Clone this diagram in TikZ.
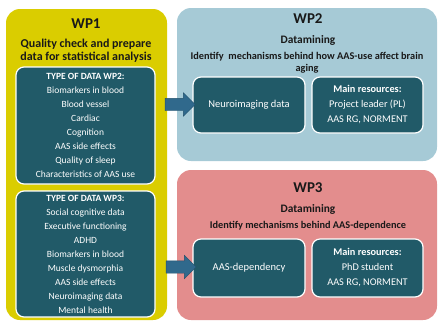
\documentclass[tikz,border=0pt]{standalone}
\usepackage{fontspec}
\setmainfont{Carlito}
\usepackage{tikz}
\usetikzlibrary{positioning, shapes.arrows}

\definecolor{wpyellow}{HTML}{DACD00}
\definecolor{wpblue}{HTML}{A6CAD6}
\definecolor{wpred}{HTML}{E38D8D}
\definecolor{tealbox}{HTML}{215A68}
\definecolor{arrowblue}{HTML}{30698C}
\definecolor{arrowedge}{HTML}{23506B}

\tikzset{
  wpbox/.style={rounded corners=14pt, inner sep=0pt},
  databox/.style={fill=tealbox, draw=white, line width=1.2pt, rounded corners=8pt,
    text=white, align=center, inner sep=0pt},
  wptitle/.style={font=\fontsize{15}{17}\selectfont\bfseries, text=black!90},
  wpsub/.style={font=\fontsize{11.4}{13}\selectfont\bfseries, text=black!90, align=center},
  blockarrow/.style={single arrow, fill=arrowblue, draw=arrowedge, line width=0.4pt,
    minimum height=30pt, minimum width=23pt, single arrow head extend=5.5pt, inner sep=6pt}
}

\begin{document}
\begin{tikzpicture}[x=1pt, y=-1pt]
  \useasboundingbox (0,0) rectangle (438,322);

  % WP1
  \node[wpbox, fill=wpyellow, minimum width=161pt, minimum height=311pt] (wp1) at (86.5,164.5) {};
  \node[wptitle] (wp1t) at (86,24) {WP1};
  \node[wpsub, font=\fontsize{12}{13.5}\selectfont\bfseries] (wp1s) at (86,50.5)
    {Quality check and prepare\\data for statistical analysis};

  % data for WP2
  \node[databox, minimum width=139pt, minimum height=117pt,
    font=\fontsize{9.5}{14}\selectfont] (data2) at (85.5,125.5)
    {\textbf{TYPE OF DATA WP2:}\\Biomarkers in blood\\Blood vessel\\Cardiac\\Cognition\\
     AAS side effects\\Quality of sleep\\Characteristics of AAS use};

  % data for WP3
  \node[databox, minimum width=139pt, minimum height=126pt,
    font=\fontsize{9.5}{14}\selectfont] (data3) at (85.5,254)
    {\textbf{TYPE OF DATA WP3:}\\Social cognitive data\\Executive functioning\\ADHD\\
     Biomarkers in blood\\Muscle dysmorphia\\AAS side effects\\Neuroimaging data\\Mental health};

  % WP2
  \node[wpbox, fill=wpblue, minimum width=260pt, minimum height=153pt] (wp2) at (307,84.5) {};
  \node[wptitle] (wp2t) at (308,19) {WP2};
  \node[wpsub] (wp2s) at (308,40) {Datamining};
  \node[wpsub, font=\fontsize{10.3}{12}\selectfont\bfseries] (wp2g) at (307,63)
    {Identify\ \ mechanisms behind how AAS-use affect brain\\aging};
  \node[databox, minimum width=112pt, minimum height=56pt,
    font=\fontsize{10.5}{15}\selectfont] (neuro) at (249,105) {Neuroimaging data};
  \node[databox, minimum width=111pt, minimum height=56pt,
    font=\fontsize{10.3}{15}\selectfont] (res2) at (367.5,105)
    {\textbf{Main resources:}\\Project leader (PL)\\AAS RG, NORMENT};

  % WP3
  \node[wpbox, fill=wpred, minimum width=260pt, minimum height=150pt] (wp3) at (307,245) {};
  \node[wptitle] (wp3t) at (308,188) {WP3};
  \node[wpsub] (wp3s) at (308,209) {Datamining};
  \node[wpsub, font=\fontsize{10.3}{12}\selectfont\bfseries] (wp3g) at (308,226)
    {Identify mechanisms behind AAS-dependence};
  \node[databox, minimum width=112pt, minimum height=58pt,
    font=\fontsize{10.5}{15}\selectfont] (dep) at (249,268) {AAS-dependency};
  \node[databox, minimum width=111pt, minimum height=58pt,
    font=\fontsize{10.3}{15}\selectfont] (res3) at (367.5,268)
    {\textbf{Main resources:}\\PhD student\\AAS RG, NORMENT};

  % arrows
  \node[blockarrow] (arr2) at (177,104.5) {};
  \node[blockarrow] (arr3) at (178,267) {};
\end{tikzpicture}
\end{document}
